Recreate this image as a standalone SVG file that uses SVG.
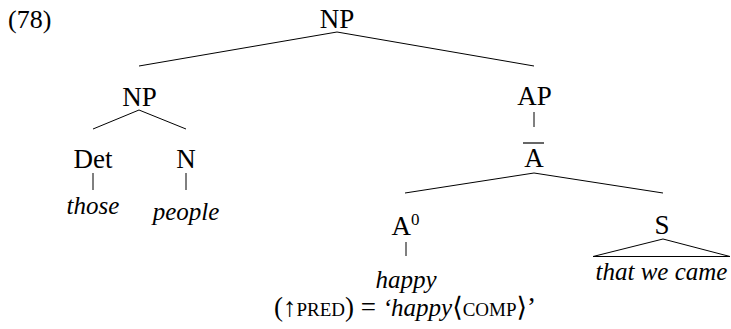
<svg xmlns="http://www.w3.org/2000/svg" width="731" height="329" viewBox="0 0 731 329">
<style>
text{font-family:'Liberation Serif','Times New Roman','DejaVu Serif',serif;fill:#000}
.r{font-size:27px;text-anchor:middle}
.i{font-size:25px;font-style:italic;text-anchor:middle}
.sc{font-size:19px;font-style:normal}
.e{font-size:26px}
.c line,.c polyline,.c polygon{stroke:#000;stroke-width:1;fill:none}
</style>
<rect width="731" height="329" fill="#fff"/>
<g id="ex-number"><text class="e" x="8" y="28" font-family="Liberation Serif, serif">(78)</text></g>
<g id="np-root"><text class="r" x="337" y="28">NP</text></g>
<g id="np-left"><text class="r" x="139.5" y="106">NP</text></g>
<g id="det"><text class="r" x="93" y="168">Det</text></g>
<g id="those"><text class="i" x="93" y="214">those</text></g>
<g id="n"><text class="r" x="186" y="168">N</text></g>
<g id="people"><text class="i" x="186" y="220">people</text></g>
<g id="ap"><text class="r" x="534.5" y="105">AP</text></g>
<g id="a-bar"><text class="r" x="534" y="167">A</text><line x1="523" y1="143" x2="544" y2="143" stroke="#000" stroke-width="1.2"/></g>
<g id="a0"><text class="r" x="405.5" y="235">A<tspan font-size="17" dy="-10">0</tspan></text></g>
<g id="happy"><text class="i" x="406" y="288">happy</text></g>
<g id="pred"><text class="r" x="405" y="316">(↑<tspan class="sc">PRED</tspan>) = <tspan font-style="italic" font-size="25">‘happy</tspan>⟨<tspan class="sc">COMP</tspan>⟩’</text></g>
<g id="s"><text class="r" x="662" y="234">S</text></g>
<g id="s-yield"><text class="i" x="661.5" y="280">that we came</text></g>
<g id="connectors" class="c">
<polyline points="139,66 337,32 534,66"/>
<polyline points="93,129 139,110 186,129"/>
<line x1="93" y1="173" x2="93" y2="190"/>
<line x1="186" y1="173" x2="186" y2="190"/>
<line x1="534" y1="112" x2="534" y2="127"/>
<polyline points="405,193 534,173 663,193"/>
<line x1="406" y1="242" x2="406" y2="256"/>
<polygon points="663,239 593,256.5 730,256.5"/>
</g>
</svg>
